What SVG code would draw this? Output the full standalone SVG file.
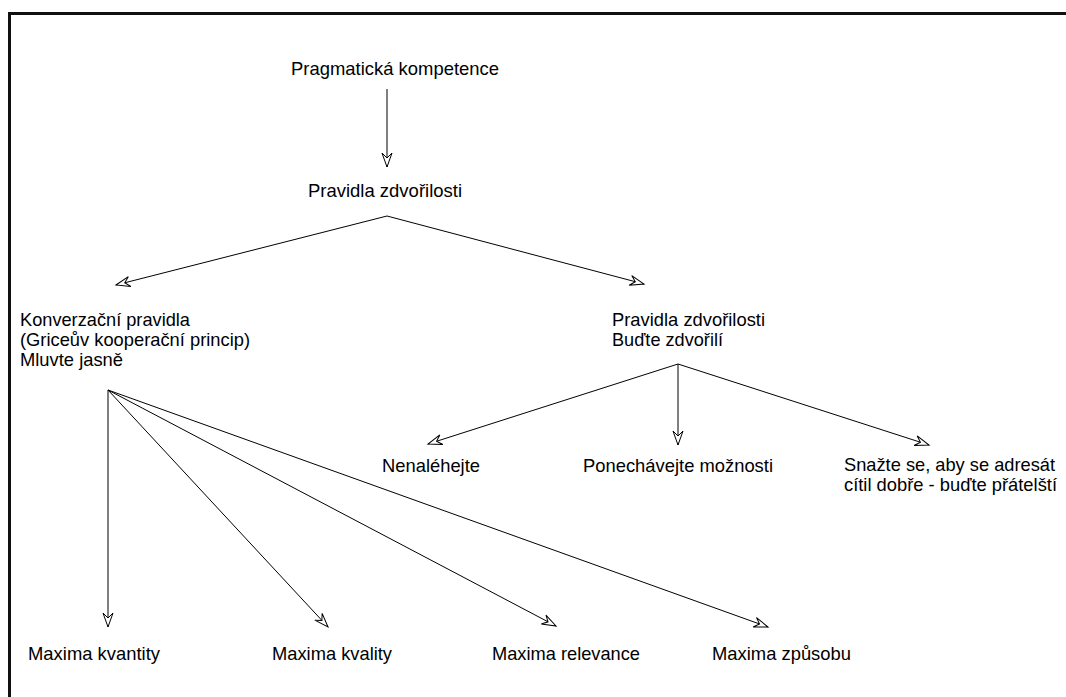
<svg xmlns="http://www.w3.org/2000/svg" width="1066" height="697" viewBox="0 0 1066 697">
  <style>
    .t { font-family: "Liberation Sans", Arial, sans-serif; font-size: 19px; fill: #000; }
    .c { stroke: #000; stroke-width: 1; fill: none; marker-end: url(#arr); }
  </style>
  <defs>
    <marker id="arr" markerUnits="userSpaceOnUse" markerWidth="16" markerHeight="12" refX="14" refY="5" orient="auto" overflow="visible">
      <path d="M0,0 L14,5 L0,10 L5,5 Z" fill="#fff" stroke="#000" stroke-width="1" stroke-linejoin="miter"/>
    </marker>
  </defs>
  <rect x="0" y="0" width="1066" height="697" fill="#fff"/>
  <rect id="frame" x="9.5" y="13.5" width="1100" height="720" fill="none" stroke="#111" stroke-width="3"/>

  <g id="connectors">
    <line class="c" x1="387" y1="89" x2="387" y2="167"/>
    <line class="c" x1="387" y1="216" x2="116" y2="285"/>
    <line class="c" x1="387" y1="216" x2="644" y2="284"/>
    <line class="c" x1="678" y1="364" x2="428" y2="444"/>
    <line class="c" x1="678" y1="364" x2="678" y2="445"/>
    <line class="c" x1="678" y1="364" x2="929" y2="445"/>
    <line class="c" x1="108" y1="390" x2="108" y2="627"/>
    <line class="c" x1="108" y1="390" x2="328" y2="627"/>
    <line class="c" x1="108" y1="390" x2="556" y2="626"/>
    <line class="c" x1="108" y1="390" x2="768" y2="627"/>
  </g>

  <g id="n-pragmaticka"><text class="t" x="291" y="75" textLength="208" lengthAdjust="spacingAndGlyphs">Pragmatická kompetence</text></g>
  <g id="n-pravidla"><text class="t" x="308" y="197" textLength="154" lengthAdjust="spacingAndGlyphs">Pravidla zdvořilosti</text></g>
  <g id="n-konverzacni">
    <text class="t" x="20" y="326" textLength="170" lengthAdjust="spacingAndGlyphs">Konverzační pravidla</text>
    <text class="t" x="20" y="346" textLength="230" lengthAdjust="spacingAndGlyphs">(Griceův kooperační princip)</text>
    <text class="t" x="20" y="366" textLength="103" lengthAdjust="spacingAndGlyphs">Mluvte jasně</text>
  </g>
  <g id="n-zdvorilosti">
    <text class="t" x="612" y="326" textLength="153" lengthAdjust="spacingAndGlyphs">Pravidla zdvořilosti</text>
    <text class="t" x="612" y="346" textLength="111" lengthAdjust="spacingAndGlyphs">Buďte zdvořilí</text>
  </g>
  <g id="n-nalehejte"><text class="t" x="382" y="472" textLength="98" lengthAdjust="spacingAndGlyphs">Nenaléhejte</text></g>
  <g id="n-ponechavejte"><text class="t" x="583" y="472" textLength="190" lengthAdjust="spacingAndGlyphs">Ponechávejte možnosti</text></g>
  <g id="n-snazte">
    <text class="t" x="844" y="471" textLength="211" lengthAdjust="spacingAndGlyphs">Snažte se, aby se adresát</text>
    <text class="t" x="844" y="491" textLength="213" lengthAdjust="spacingAndGlyphs">cítil dobře - buďte přátelští</text>
  </g>
  <g id="n-kvantity"><text class="t" x="28" y="660" textLength="132" lengthAdjust="spacingAndGlyphs">Maxima kvantity</text></g>
  <g id="n-kvality"><text class="t" x="272" y="660" textLength="120" lengthAdjust="spacingAndGlyphs">Maxima kvality</text></g>
  <g id="n-relevance"><text class="t" x="492" y="660" textLength="148" lengthAdjust="spacingAndGlyphs">Maxima relevance</text></g>
  <g id="n-zpusobu"><text class="t" x="712" y="660" textLength="139" lengthAdjust="spacingAndGlyphs">Maxima způsobu</text></g>
</svg>
